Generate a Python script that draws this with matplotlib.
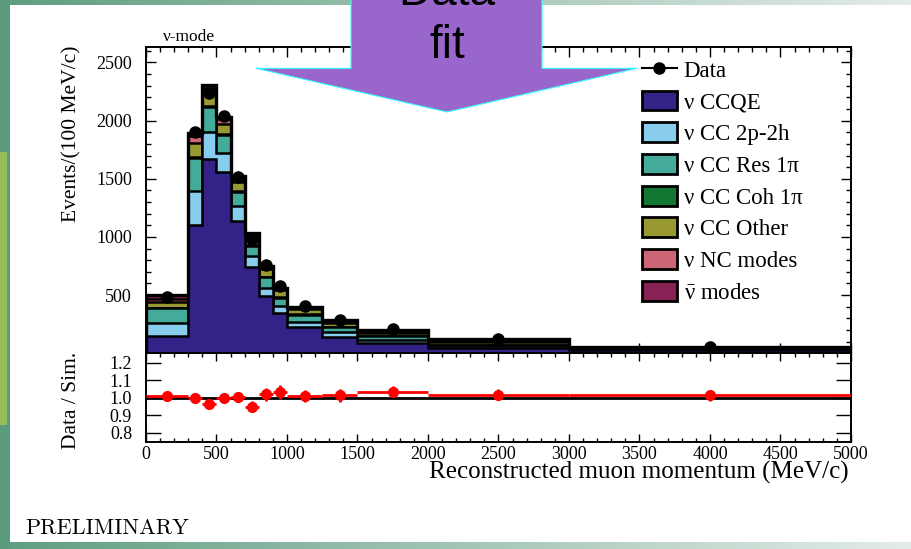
import numpy as np
import matplotlib
matplotlib.use('Agg')
import matplotlib.pyplot as plt
from matplotlib.patches import Patch, Polygon, Rectangle
from matplotlib.lines import Line2D
from matplotlib.ticker import MultipleLocator, FixedLocator, FormatStrFormatter

# bins in reconstructed muon momentum (MeV/c)
edges = [0, 300, 400, 500, 600, 700, 800, 900, 1000, 1250, 1500, 2000, 3000, 5000]

# simulated events per 100 MeV/c, one list per interaction mode
ccqe  = [148, 1100, 1671, 1557, 1140, 740, 491, 343, 228, 140, 86, 49, 25]
np2h  = [109, 297, 234, 163, 122, 94, 72, 62, 44, 43, 25, 11, 5]
res   = [129, 284, 210, 157, 123, 89, 90, 74, 60, 40, 34, 14, 7]
coh   = [6, 10, 10, 8, 6, 5, 4, 3, 2, 2, 1, 1, 0]
other = [51, 115, 101, 86, 77, 86, 69, 58, 43, 38, 31, 22, 8]
nc    = [26, 62, 51, 40, 29, 10, 11, 11, 11, 11, 11, 8, 5]
anti  = [28, 29, 28, 23, 28, 10, 11, 12, 12, 9, 12, 15, 4]

data     = [488, 1905, 2234, 2040, 1514, 986, 762, 580, 405, 287, 207, 122, 55]
data_err = [13, 44, 47, 45, 39, 31, 28, 24, 13, 11, 6, 3.5, 1.7]

ratio     = [1.01, 0.998, 0.964, 1.0, 1.004, 0.95, 1.02, 1.034, 1.011, 1.015, 1.036, 1.019, 1.015]
ratio_err = [0.025, 0.023, 0.021, 0.022, 0.026, 0.031, 0.037, 0.042, 0.032, 0.038, 0.03, 0.03, 0.032]

labels = ['\u03bd CCQE', '\u03bd CC 2p-2h', '\u03bd CC Res 1\u03c0', '\u03bd CC Coh 1\u03c0',
          '\u03bd CC Other', '\u03bd NC modes', r'$\bar{\nu}$ modes']
colors = ['#332288', '#88CCEE', '#44AA99', '#117733', '#999933', '#CC6677', '#882255']

serif = 'Liberation Serif'
plt.rcParams['mathtext.fontset'] = 'custom'
plt.rcParams['mathtext.rm'] = serif
plt.rcParams['mathtext.it'] = serif
plt.rcParams['mathtext.bf'] = serif + ':bold'

W, H = 912, 549
fig = plt.figure(figsize=(W / 100, H / 100), dpi=100)
fig.patch.set_facecolor('white')

def px(x0, y0, x1, y1):
    return [x0 / W, 1 - y1 / H, (x1 - x0) / W, (y1 - y0) / H]

ax = fig.add_axes(px(146, 47.3, 851, 353.3))
ax2 = fig.add_axes(px(146, 353.3, 851, 441.7))

edges_a = np.array(edges, dtype=float)
centers = 0.5 * (edges_a[1:] + edges_a[:-1])
halfw = 0.5 * (edges_a[1:] - edges_a[:-1])

comps = [ccqe, np2h, res, coh, other, nc, anti]
cum = np.cumsum(np.array(comps, dtype=float), axis=0)

# stack drawn top-down like ROOT THStack
for i in range(len(comps) - 1, -1, -1):
    ax.stairs(cum[i], edges_a, baseline=0, fill=True, facecolor=colors[i],
              edgecolor='black', linewidth=1.8, zorder=2)
ax.stairs(cum[-1], edges_a, baseline=0, fill=False, edgecolor='black', linewidth=2.4, zorder=3)

ax.errorbar(centers, data, yerr=data_err, fmt='o', color='black', ms=8,
            elinewidth=1.5, capsize=0, zorder=5)

ax.set_xlim(0, 5000)
ax.set_ylim(0, 2630)
ax.yaxis.set_major_locator(FixedLocator([500, 1000, 1500, 2000, 2500]))
ax.yaxis.set_minor_locator(MultipleLocator(100))
ax.xaxis.set_major_locator(MultipleLocator(500))
ax.xaxis.set_minor_locator(MultipleLocator(100))
ax.tick_params(which='both', direction='in', top=True, right=True, labelbottom=False, width=1)
ax.tick_params(which='major', length=7)
ax.tick_params(which='minor', length=3.5)
ax.tick_params(axis='y', which='major', pad=10)
for lab in ax.get_yticklabels():
    lab.set_fontfamily(serif)
    lab.set_fontsize(13)
for s in ax.spines.values():
    s.set_linewidth(1.4)

# ratio panel
ax2.axhline(1.0, color='black', lw=2, zorder=1)
ax2.errorbar(centers, ratio, xerr=halfw, yerr=ratio_err, fmt='o', color='red', ms=7,
             elinewidth=2, capsize=0, zorder=3)
ax2.set_xlim(0, 5000)
ax2.set_ylim(0.75, 1.255)
ax2.yaxis.set_major_locator(FixedLocator([0.8, 0.9, 1.0, 1.1, 1.2]))
ax2.yaxis.set_major_formatter(FormatStrFormatter('%.1f'))
ax2.xaxis.set_major_locator(MultipleLocator(500))
ax2.xaxis.set_minor_locator(MultipleLocator(100))
ax2.tick_params(which='both', direction='in', top=True, right=True, width=1)
ax2.tick_params(axis='y', which='major', length=11, pad=10)
ax2.tick_params(axis='x', which='major', length=6, pad=3)
ax2.tick_params(axis='x', which='minor', length=3)
for lab in ax2.get_yticklabels() + ax2.get_xticklabels():
    lab.set_fontfamily(serif)
    lab.set_fontsize(13)
for s in ax2.spines.values():
    s.set_linewidth(1.4)

# legend
hdata = Line2D([], [], color='black', marker='o', ms=8, lw=1.5)
handles = [hdata] + [Patch(facecolor=c, edgecolor='black', linewidth=2) for c in colors]
ax.legend(handles, ['Data'] + labels, loc='upper left',
          bbox_to_anchor=(641.7 / W, 1 - 59 / H), bbox_transform=fig.transFigure,
          frameon=False, prop={'family': serif, 'size': 16.5}, handlelength=1.55,
          handleheight=0.95, handletextpad=0.28, labelspacing=0.39, borderpad=0,
          borderaxespad=0, numpoints=1)

# slide decoration + annotations in pixel coordinates
ov = fig.add_axes([0, 0, 1, 1], zorder=10)
ov.axis('off')
ov.patch.set_alpha(0)

grad = np.linspace(0, 1, 256)
c0 = np.array([95, 158, 128]) / 255
c1 = np.array([228, 236, 232]) / 255
strip = (c0[None, :] * (1 - grad[:, None]) + c1[None, :] * grad[:, None])[None, :, :]
ov.imshow(strip, extent=(0, W, 5, 0), aspect='auto', interpolation='bilinear')
ov.imshow(strip, extent=(0, W, H, 542), aspect='auto', interpolation='bilinear')
ov.add_patch(Rectangle((0, 0), 10, H, facecolor='#5C9C7E', edgecolor='none'))
ov.add_patch(Rectangle((0, 152), 7, 273, facecolor='#96BE5C', edgecolor='none'))
ov.set_xlim(0, W)
ov.set_ylim(H, 0)

arrow = [(351, -5), (542, -5), (542, 68.3), (637, 68.3), (447, 112), (256, 68.3), (351, 68.3)]
ov.add_patch(Polygon(arrow, closed=True, facecolor='#9966CC', edgecolor='#33FFFF', lw=0.8))
ov.text(447, 5, 'Data', ha='center', va='baseline', fontsize=33, family='Liberation Sans')
ov.text(447, 58, 'fit', ha='center', va='baseline', fontsize=33, family='Liberation Sans')

ov.text(163, 41, '\u03bd-mode', ha='left', va='baseline', fontsize=12.5, family=serif)
ov.text(72, 46, 'Events/(100 MeV/c)', rotation=90, ha='center', va='top', fontsize=15.5, family=serif)
ov.text(72, 352, 'Data / Sim.', rotation=90, ha='center', va='top', fontsize=15.5, family=serif)
ov.text(849, 479, 'Reconstructed muon momentum (MeV/c)', ha='right', va='baseline',
        fontsize=18, family=serif)
ov.text(25, 534, 'PRELIMINARY', ha='left', va='baseline', fontsize=16, family='cmr10')

fig.savefig('out.png', dpi=100)
